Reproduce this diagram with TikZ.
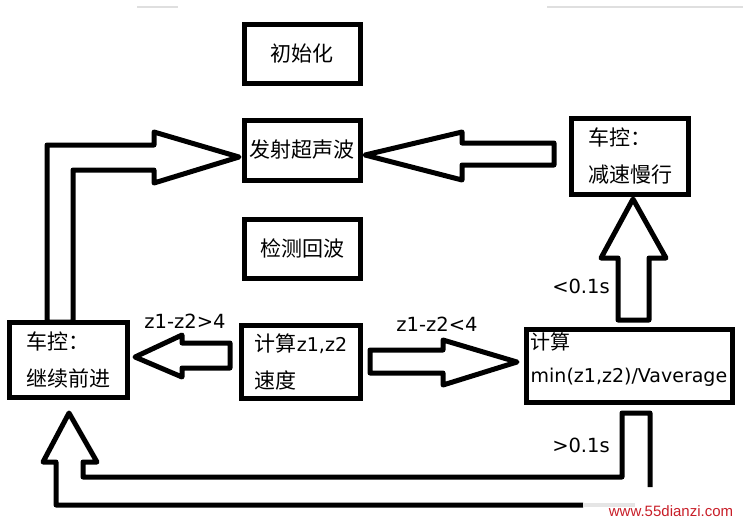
\documentclass[tikz,border=0pt]{standalone}
\usepackage{fontspec}
\setmainfont{Noto Sans CJK SC}
\newfontfamily\latfont{DejaVu Sans}
\newfontfamily\webfont{Liberation Sans}
\newcommand\eng[1]{{\latfont\fontsize{19}{19}\selectfont #1}}
\usetikzlibrary{calc,positioning}
\definecolor{webred}{RGB}{200,30,40}

\begin{document}
\begin{tikzpicture}[x=1pt,y=-1pt,
    box/.style={draw,line width=5pt,inner sep=0pt,outer sep=0pt,minimum width=116pt,
        minimum height=59pt,align=left,font=\fontsize{21}{37}\selectfont},
    hollow/.style={draw,line width=5pt,line join=round},
    cond/.style={font=\latfont\fontsize{19.5}{20}\selectfont}]

\useasboundingbox (0,0) rectangle (743,523);

% scan lines at the top
\draw[gray!25,line width=2pt] (137,7) -- (178,7) (547,7) -- (743,7);

% boxes
\node[box] (init) at (302,53.5) {初始化};
\node[box,minimum height=60pt] (emit) at (302,150) {发射超声波};
\node[box] (echo) at (302,248.5) {检测回波};
\node[box,minimum width=118pt,minimum height=75pt] (go) at (68.5,360) {车控：\\继续前进};
\node[box,minimum width=119pt,minimum height=73pt] (calc) at (301,362) {计算\eng{z1,z2}\\速度};
\node[box,minimum width=206pt,minimum height=73pt] (ratio) at (629.5,366) {};
\node[anchor=north west,align=left,inner sep=0pt,font=\fontsize{20}{33}\selectfont]
    (ratiotext) at ($(ratio.north west)+(4,3)$) {计算\\\eng{min(z1,z2)/Vaverage}};
\node[box,minimum width=117pt,minimum height=76pt] (slow) at (630,156.5) {车控：\\减速慢行};

% hollow arrows
\draw[hollow] ($(emit.east)+(5,5)$) -- ++(97,-23) -- ++(0,11) -- ++(92,0)
    -- ++(0,22) -- ++(-92,0) -- ++(0,15) -- cycle;
\draw[hollow] ($(slow.south)+(3,4.5)$) -- ++(33,59) -- ++(-17,0) -- ++(0,62)
    -- ++(-31,0) -- ++(0,-62) -- ++(-17,0) -- cycle;
\draw[hollow] ($(go.east)+(7.5,-3)$) -- ++(47,-22) -- ++(0,8) -- ++(48,0)
    -- ++(0,25) -- ++(-48,0) -- ++(0,9) -- cycle;
\draw[hollow] ($(ratio.west)+(-9.5,-4)$) -- ++(-74,-22) -- ++(0,10) -- ++(-73,0)
    -- ++(0,23) -- ++(73,0) -- ++(0,12) -- cycle;
\draw[hollow] ($(emit.west)+(-5,7)$) -- ++(-85,-25) -- ++(0,13) -- ++(-107,0)
    -- ++(0,177) -- ++(26,0) -- ++(0,-152) -- ++(81,0) -- ++(0,13) -- cycle;

% way back under the boxes
\coordinate (tip) at ($(go.south)+(0.5,15.5)$);
\draw[hollow] ($(tip)+(514,92)$) -- ++(-527,0) -- ++(0,-43) -- ++(-13,0) -- (tip)
    -- ++(28,49) -- ++(-14,0) -- ++(0,15) -- ++(539,0) -- ++(0,-64) -- ++(28,0) -- ++(0,74);
\draw[gray!20,line width=4pt] ($(tip)+(514,92)$) -- ++(52,0);

% conditions
\node[cond] (gt4) at (185,321) {z1-z2>4};
\node[cond] (lt4) at (437,324) {z1-z2<4};
\node[cond] (short) at (581,286) {<0.1s};
\node[cond] (long) at (581,445) {>0.1s};

\node[text=webred,font=\webfont\fontsize{15}{15}\selectfont] (site) at (671,511) {www.55dianzi.com};
\end{tikzpicture}
\end{document}
